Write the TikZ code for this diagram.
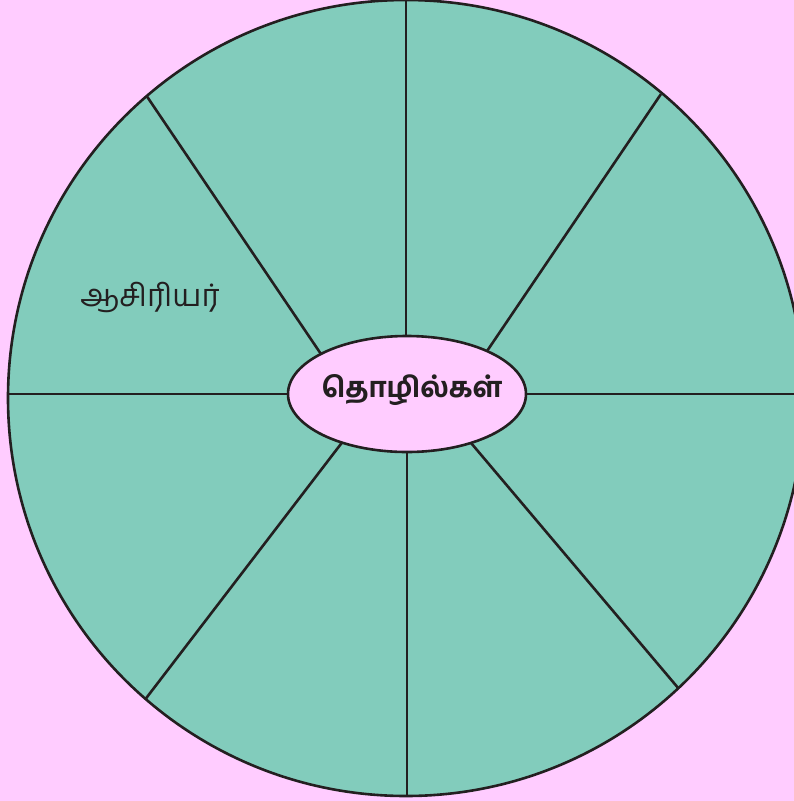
\documentclass[tikz,border=0pt]{standalone}
\usepackage{fontspec}
\usetikzlibrary{shapes.geometric}
\newfontfamily\tamilfont[Script=Tamil,BoldFont={Hind Madurai Bold}]{Hind Madurai}
\definecolor{bgpink}{HTML}{FFCCFF}
\definecolor{wheelteal}{HTML}{82CCBC}
\definecolor{inkline}{HTML}{231F20}
\begin{document}
\begin{tikzpicture}[x=1pt,y=-1pt,
  spoke/.style={draw=inkline,line width=2.6pt},
  hub/.style={ellipse,draw=inkline,line width=2.6pt,fill=bgpink,
    minimum width=238pt,minimum height=116pt,inner sep=0pt},
  label/.style={text=inkline,inner sep=0pt}]
\fill[bgpink] (0,0) rectangle (794,801);
\useasboundingbox (0,0) rectangle (794,801);
\begin{scope}
\clip (0,0) rectangle (794,801);
\fill[wheelteal] (406,398) circle[radius=398];
\begin{scope}
\clip (406,398) circle[radius=398];
% outer ends of spokes
\coordinate (t) at (406,-5);
\coordinate (b) at (407,805);
\coordinate (l) at (0,394);
\coordinate (r) at (810,394);
\coordinate (ul) at (146,95);
\coordinate (ur) at (661,94);
\coordinate (ll) at (144,701);
\coordinate (lr) at (679,689);
% inner ends (under the hub)
\coordinate (ti) at (406,350);
\coordinate (bi) at (407,440);
\coordinate (li) at (300,394);
\coordinate (ri) at (510,394);
\coordinate (uli) at (325,360);
\coordinate (uri) at (483,357);
\coordinate (lli) at (347,436);
\coordinate (lri) at (466,437);
\draw[spoke] (t) -- (ti);
\draw[spoke] (b) -- (bi);
\draw[spoke] (l) -- (li);
\draw[spoke] (r) -- (ri);
\draw[spoke] (ul) -- (uli);
\draw[spoke] (ur) -- (uri);
\draw[spoke] (ll) -- (lli);
\draw[spoke] (lr) -- (lri);
\end{scope}
\draw[draw=inkline,line width=2.6pt] (406,398) circle[radius=398];
\end{scope}
\node[hub] (hub) at (407,394) {};
\node[label,font=\tamilfont\bfseries\fontsize{28}{32}\selectfont] (title) at (412,390) {தொழில்கள்};
\node[label,font=\tamilfont\fontsize{31}{36}\selectfont] (teacher) at (150,297) {ஆசிரியர்};
\end{tikzpicture}
\end{document}
